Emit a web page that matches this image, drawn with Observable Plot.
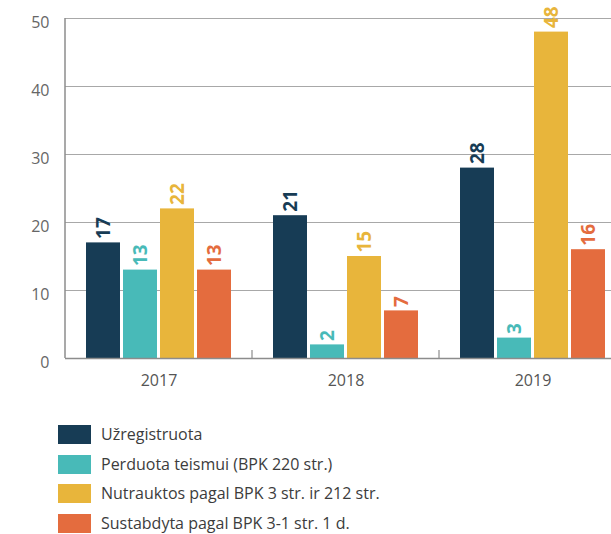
<!DOCTYPE html>
<html><head><meta charset="utf-8">
<script src="https://cdn.jsdelivr.net/npm/d3@7"></script>
<script src="https://cdn.jsdelivr.net/npm/@observablehq/plot@0.6"></script>
<style>
html,body{margin:0;padding:0;background:#fff;overflow:hidden;}
body{width:611px;height:534px;position:relative;font-family:"Open Sans",sans-serif;}
#legend{position:absolute;left:58px;top:425px;}
.row{display:flex;align-items:center;height:19px;margin-bottom:10.7px;}
.sw{width:33px;height:19px;margin-right:10px;flex:none;}
.lab{font-size:16px;color:#3c3c3c;line-height:19px;white-space:nowrap;}
</style></head><body><div id="chart"></div><div id="legend"></div>
<script>
const years = ["2017", "2018", "2019"];
const series = ["Užregistruota", "Perduota teismui (BPK 220 str.)", "Nutrauktos pagal BPK 3 str. ir 212 str.", "Sustabdyta pagal BPK 3-1 str. 1 d."];
const uzregistruota = [17, 21, 28];
const perduota = [13, 2, 3];
const nutrauktos = [22, 15, 48];
const sustabdyta = [13, 7, 16];
const colors = ["#173c55", "#48bab8", "#e8b53b", "#e46c3e"];
const yTicks = [0, 10, 20, 30, 40, 50];

const valuesBySeries = [uzregistruota, perduota, nutrauktos, sustabdyta];
const rows = years.flatMap((y, i) => series.map((s, j) => ({year: y, series: s, value: valuesBySeries[j][i]})));

const plot = Plot.plot({
  width: 611, height: 400,
  marginLeft: 64, marginRight: -15, marginTop: 18, marginBottom: 42,
  style: {fontFamily: "'Open Sans', sans-serif", background: "transparent", overflow: "visible"},
  fx: {domain: years, padding: 0, label: null},
  x: {domain: series, paddingInner: 0.08, paddingOuter: 0.55, axis: null},
  y: {domain: [0, 50], axis: null},
  color: {domain: series, range: colors},
  marks: [
    Plot.gridY(yTicks, {stroke: "#a8a8a8", strokeOpacity: 1, strokeWidth: 1}),
    Plot.barY(rows, {fx: "year", x: "series", y: "value", fill: "series"}),
    Plot.text(rows, {fx: "year", x: "series", y: "value", text: d => String(d.value), fill: "series",
      rotate: -90, textAnchor: "start", lineAnchor: "middle", dy: -4, fontSize: 19, fontWeight: "bold"}),
    Plot.ruleY([0], {stroke: "#8c8c8c", strokeWidth: 1.5}),
    Plot.axisY(yTicks, {tickSize: 0, tickPadding: 16, fontSize: 16, fill: "#666", dy: 4, label: null}),
    Plot.axisFx({anchor: "bottom", tickSize: 0, tickPadding: 16, fontSize: 16, fill: "#555", label: null})
  ]
});
document.getElementById("chart").appendChild(plot);

// axis line and group separator ticks from the plot's own scales
const fxs = plot.scale("fx"), ys = plot.scale("y");
const svg = d3.select(plot);
const y0 = ys.apply(0), yTop = ys.apply(50);
const x0 = fxs.apply(years[0]);
svg.append("line").attr("x1", x0).attr("x2", x0).attr("y1", yTop).attr("y2", y0)
  .attr("stroke", "#8c8c8c").attr("stroke-width", 1.5);
years.slice(1).forEach(yr => {
  const xx = fxs.apply(yr);
  svg.append("line").attr("x1", xx).attr("x2", xx).attr("y1", y0).attr("y2", y0 - 8)
    .attr("stroke", "#8c8c8c").attr("stroke-width", 1.2);
});

// legend
const legend = d3.select("#legend");
series.forEach((s, i) => {
  const r = legend.append("div").attr("class", "row");
  r.append("div").attr("class", "sw").style("background", colors[i]);
  r.append("div").attr("class", "lab").text(s);
});
</script></body></html>
